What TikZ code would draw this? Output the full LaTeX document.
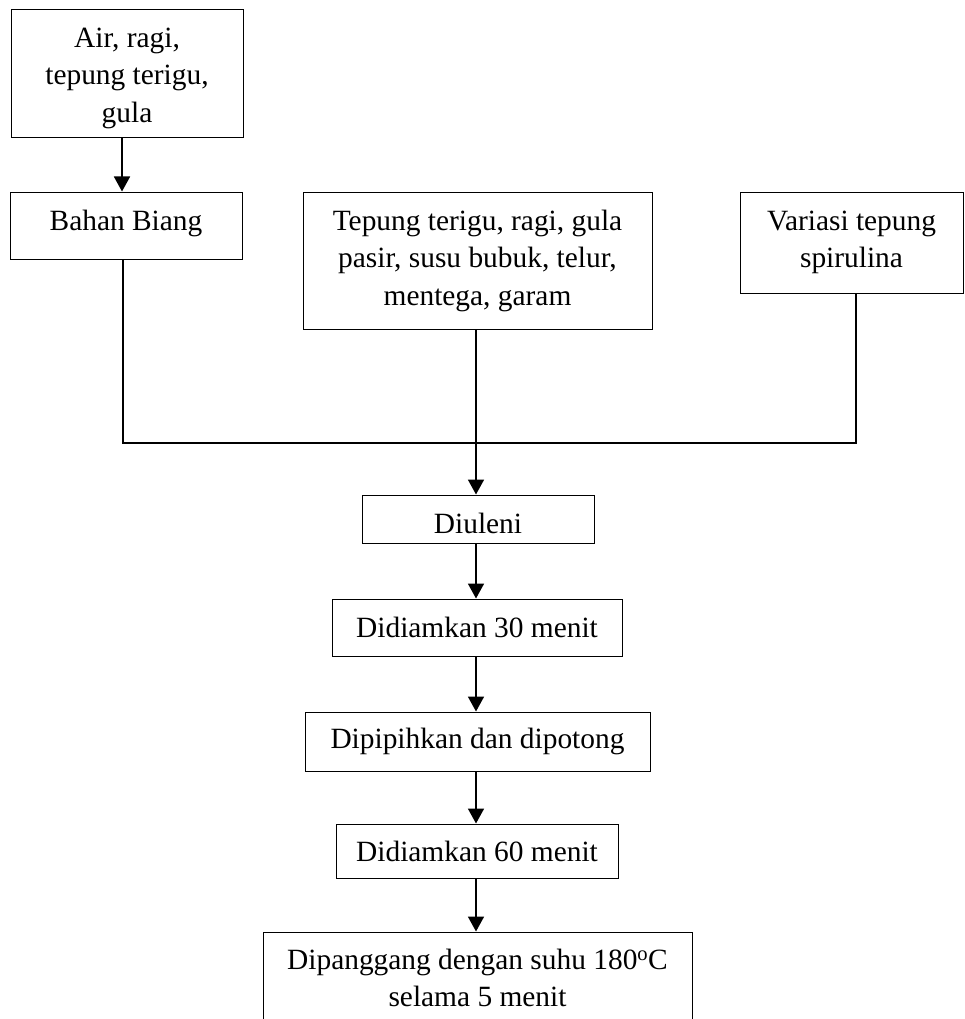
\documentclass[tikz,border=0pt]{standalone}
\usepackage{fontspec}
\setmainfont{Liberation Serif}
\usetikzlibrary{arrows.meta}
\begin{document}
\begin{tikzpicture}[x=1pt,y=-1pt,
  box/.style={draw=black, line width=1pt, inner sep=0pt, align=center,
    font=\fontsize{29.4}{37.5}\selectfont},
  conn/.style={line width=1.8pt},
  arr/.style={conn, -{Triangle[width=16pt,length=15pt]}}]
\useasboundingbox (0,0) rectangle (964,1019);
\clip (0,0) rectangle (964,1019);
% boxes
\node[box, minimum width=232, minimum height=128] (air) at (127,74)
  {\rule{0pt}{28pt}Air, ragi,\\tepung terigu,\\gula};
\node[box, minimum width=232, minimum height=67, text height=19.8pt, text depth=10.8pt] (biang) at (126,225.5)
  {Bahan Biang};
\node[box, minimum width=349, minimum height=137] (mid) at (477.5,260.5)
  {Tepung terigu, ragi, gula\\pasir, susu bubuk, telur,\\mentega, garam};
\node[box, minimum width=223, minimum height=101] (var) at (851.5,242.5)
  {Variasi tepung\\spirulina};
\node[box, minimum width=232, minimum height=48, text height=28pt, text depth=0pt] (diuleni) at (478,519)
  {Diuleni};
\node[box, minimum width=290, minimum height=57] (d30) at (477,627.5)
  {Didiamkan 30 menit};
\node[box, minimum width=345, minimum height=59] (dpp) at (477.5,741.5)
  {Dipipihkan dan dipotong};
\node[box, minimum width=282, minimum height=54] (d60) at (477,851)
  {Didiamkan 60 menit};
\node[box, minimum width=429, minimum height=92] (bake) at (477.5,978)
  {Dipanggang dengan suhu 180\textsuperscript{o}C\\selama 5 menit};
% helper coordinates
\coordinate (xa) at (122,0);
\coordinate (xl) at (123,0);
\coordinate (xr) at (856,0);
\coordinate (J) at (476,443);
% connectors
\draw[arr] (air.south -| xa) -- (biang.north -| xa);
\draw[conn] (biang.south -| xl) |- (J);
\draw[conn] (mid.south -| J) -- (J);
\draw[conn] (var.south -| xr) |- (J);
\draw[arr] (J) -- (diuleni.north -| J);
\draw[arr] (diuleni.south -| J) -- (d30.north -| J);
\draw[arr] (d30.south -| J) -- (dpp.north -| J);
\draw[arr] (dpp.south -| J) -- (d60.north -| J);
\draw[arr] (d60.south -| J) -- (bake.north -| J);
\end{tikzpicture}
\end{document}
